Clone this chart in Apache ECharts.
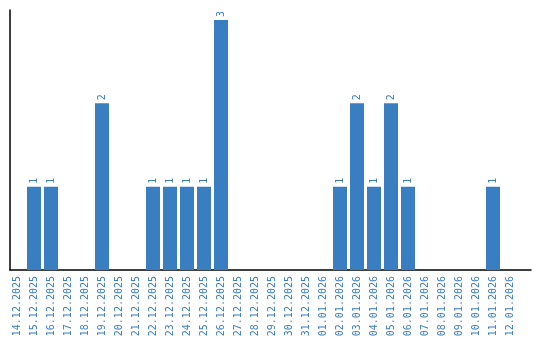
<!DOCTYPE html>
<html>
<head>
<meta charset="utf-8">
<script src="https://cdn.jsdelivr.net/npm/echarts@6/dist/echarts.min.js"></script>
<style>html,body{margin:0;padding:0;background:#fff}#c{width:540px;height:340px}</style>
</head>
<body>
<div id="c"></div>
<script>
const categories = ["14.12.2025","15.12.2025","16.12.2025","17.12.2025","18.12.2025","19.12.2025","20.12.2025","21.12.2025","22.12.2025","23.12.2025","24.12.2025","25.12.2025","26.12.2025","27.12.2025","28.12.2025","29.12.2025","30.12.2025","31.12.2025","01.01.2026","02.01.2026","03.01.2026","04.01.2026","05.01.2026","06.01.2026","07.01.2026","08.01.2026","09.01.2026","10.01.2026","11.01.2026","12.01.2026"];
const counts = [0,1,1,0,0,2,0,0,1,1,1,1,3,0,0,0,0,0,0,1,2,1,2,1,0,0,0,0,1,0];
const blue = '#3a7ec2';
const chart = echarts.init(document.getElementById('c'), null, {renderer:'canvas'});
chart.setOption({
  animation: false,
  grid: [
    {left: 8.5, right: 21.5, top: 20, bottom: 70},
    {left: 10, right: 9, top: 10, bottom: 70}
  ],
  xAxis: [
    {type: 'category', data: categories, gridIndex: 0,
     axisLine: {show: false}, axisTick: {show: false},
     axisLabel: {interval: 0, rotate: 90, color: blue, fontSize: 10, fontFamily: 'DejaVu Sans Mono', margin: 6}},
    {type: 'value', gridIndex: 1, min: 0, max: 1, show: true,
     axisLine: {show: true, onZero: false, lineStyle: {color: '#000', width: 1.5}},
     axisTick: {show: false}, axisLabel: {show: false}, splitLine: {show: false}}
  ],
  yAxis: [
    {type: 'value', gridIndex: 0, min: 0, max: 3,
     axisLine: {show: false}, axisTick: {show: false}, axisLabel: {show: false}, splitLine: {show: false}},
    {type: 'value', gridIndex: 1, min: 0, max: 1,
     axisLine: {show: true, onZero: false, lineStyle: {color: '#000', width: 1.5}},
     axisTick: {show: false}, axisLabel: {show: false}, splitLine: {show: false}}
  ],
  series: [{
    type: 'bar', xAxisIndex: 0, yAxisIndex: 0,
    data: counts, barWidth: 14,
    itemStyle: {color: blue},
    label: {show: true, position: 'top', rotate: 90, align: 'left', verticalAlign: 'middle',
      distance: 3, color: blue, fontSize: 10, fontFamily: 'DejaVu Sans Mono',
      formatter: p => p.value ? String(p.value) : ''}
  }]
});
</script>
</body>
</html>
